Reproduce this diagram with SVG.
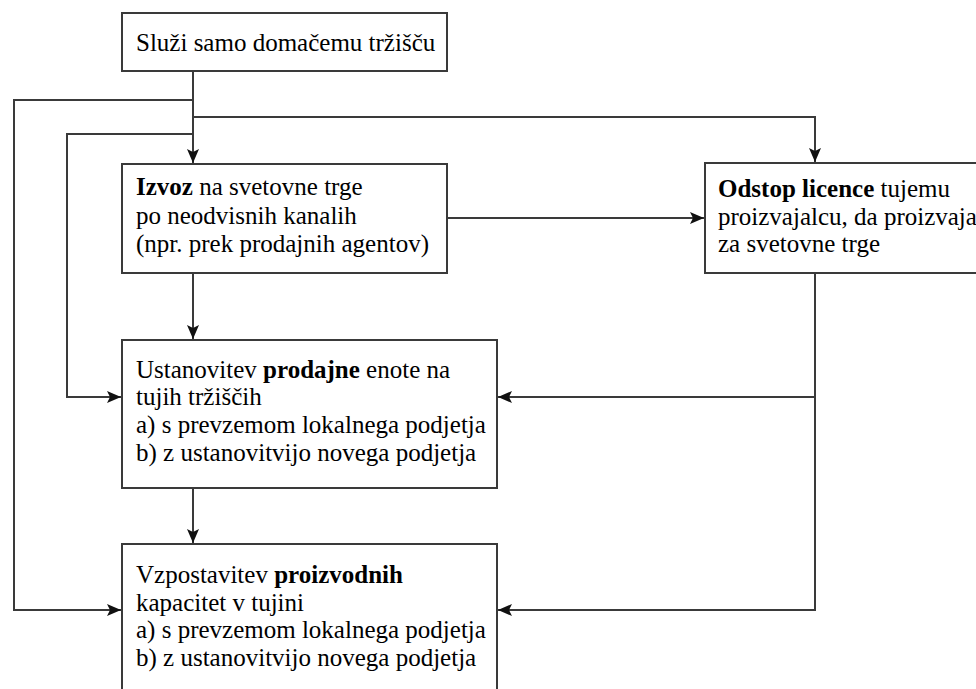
<svg xmlns="http://www.w3.org/2000/svg" width="976" height="689" viewBox="0 0 976 689" font-family="'Times New Roman', 'Liberation Serif', serif" font-size="25">
<defs>
<marker id="ah" markerUnits="userSpaceOnUse" markerWidth="16" markerHeight="14" refX="14" refY="6" orient="auto">
<path d="M0,0 L14,6 L0,12 L3,6 z" fill="#111"/>
</marker>
</defs>
<rect width="976" height="689" fill="#fff"/>
<g id="connectors" fill="none" stroke="#3a3a3a" stroke-width="2">
<path d="M193,71 V163" marker-end="url(#ah)"/>
<path d="M193,100 H14 V610 H121" marker-end="url(#ah)"/>
<path d="M193,117 H815 V162" marker-end="url(#ah)"/>
<path d="M193,134 H67 V397 H121" marker-end="url(#ah)"/>
<path d="M447,218 H704" marker-end="url(#ah)"/>
<path d="M193,273 V339" marker-end="url(#ah)"/>
<path d="M193,488 V543" marker-end="url(#ah)"/>
<path d="M815,273 V610 H498" marker-end="url(#ah)"/>
<path d="M815,397 H498" marker-end="url(#ah)"/>
</g>
<g id="n1">
<rect x="122" y="13" width="325" height="58" fill="#fff" stroke="#3a3a3a" stroke-width="2"/>
<text x="136" y="51">Služi samo domačemu tržišču</text>
</g>
<g id="n2">
<rect x="122" y="164" width="325" height="109" fill="#fff" stroke="#3a3a3a" stroke-width="2"/>
<text x="136" y="195"><tspan font-weight="bold">Izvoz</tspan> na svetovne trge</text>
<text x="136" y="224">po neodvisnih kanalih</text>
<text x="136" y="252">(npr. prek prodajnih agentov)</text>
</g>
<g id="n3">
<rect x="705" y="163" width="290" height="110" fill="#fff" stroke="#3a3a3a" stroke-width="2"/>
<text x="718" y="197"><tspan font-weight="bold">Odstop licence</tspan> tujemu</text>
<text x="718" y="225">proizvajalcu, da proizvaja</text>
<text x="718" y="252">za svetovne trge</text>
</g>
<g id="n4">
<rect x="122" y="340" width="375" height="148" fill="#fff" stroke="#3a3a3a" stroke-width="2"/>
<text x="136" y="378">Ustanovitev <tspan font-weight="bold">prodajne</tspan> enote na</text>
<text x="136" y="405">tujih tržiščih</text>
<text x="136" y="433">a) s prevzemom lokalnega podjetja</text>
<text x="136" y="461">b) z ustanovitvijo novega podjetja</text>
</g>
<g id="n5">
<rect x="122" y="544" width="375" height="160" fill="#fff" stroke="#3a3a3a" stroke-width="2"/>
<text x="136" y="583">Vzpostavitev <tspan font-weight="bold">proizvodnih</tspan></text>
<text x="136" y="611">kapacitet v tujini</text>
<text x="136" y="638">a) s prevzemom lokalnega podjetja</text>
<text x="136" y="666">b) z ustanovitvijo novega podjetja</text>
</g>
</svg>
